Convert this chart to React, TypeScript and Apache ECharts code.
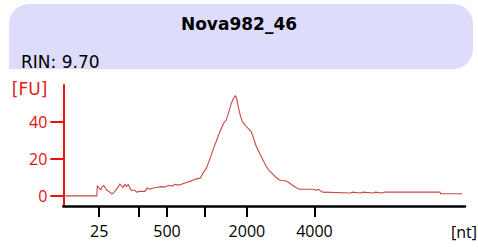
import React, { useEffect, useRef } from "react";
import * as echarts from "echarts";

// Electropherogram: migration time (s) vs fluorescence (FU)
const times: number[] = [
  20.0, 24.18, 24.23, 24.47, 24.68, 24.81, 25.05, 25.39, 25.8, 26.05, 26.42, 26.83, 27.04,
  27.25, 27.45, 27.66, 27.87, 28.07, 28.28, 28.49, 28.9, 29.11, 29.52, 30.15, 30.43, 30.77,
  31.18, 31.6, 32.22, 32.63, 33.04, 33.66, 33.87, 34.28, 34.7, 35.32, 35.94, 36.57, 37.06,
  37.39, 37.81, 38.13, 38.43, 38.71, 39.05, 39.33, 39.67, 39.96, 40.29, 40.61, 40.91, 41.2,
  41.41, 41.57, 41.82, 42.03, 42.28, 42.56, 42.97, 43.4, 43.68, 44.02, 44.43, 44.84, 45.26,
  45.67, 46.08, 46.5, 46.91, 47.32, 47.74, 48.15, 48.56, 48.98, 49.39, 51.13, 51.47, 51.75,
  52.25, 55.73, 55.97, 56.97, 57.22, 58.58, 58.83, 59.7, 59.95, 66.9, 66.96, 69.63,
];
const fluorescence: number[] = [
  0, 0, 5.4, 4.2, 3.2, 4.7, 5.6, 3.2, 2.0, 0.9, 2.4, 4.7, 6.5,
  5.4, 4.5, 6.3, 4.9, 6.3, 4.2, 3.0, 3.0, 2.0, 2.4, 2.4, 4.2, 3.6,
  4.2, 4.5, 5.0, 4.7, 5.6, 5.4, 6.3, 5.8, 6.3, 7.2, 8.1, 9.2, 9.6,
  12.3, 15.0, 18.6, 22.2, 25.8, 29.7, 33.0, 36.6, 39.3, 41.1, 45.6, 50.1, 52.8,
  54.3, 52.8, 47.4, 43.5, 40.2, 38.8, 36.6, 34.8, 31.2, 26.7, 23.1, 19.5, 15.9,
  13.5, 11.7, 9.9, 8.6, 8.3, 8.0, 6.9, 5.6, 4.5, 3.6, 3.6, 3.0, 3.6,
  2.0, 1.5, 2.0, 1.5, 2.0, 1.5, 2.0, 1.5, 2.0, 2.0, 1.1, 1.1,
];

// Ladder (nt) positions in migration time
const ladderTimes: number[] = [24.47, 29.44, 32.91, 37.6, 42.85, 51.26];
const ladderSizes: number[] = [25, 200, 500, 1000, 2000, 4000];
const labelledSizes: number[] = [25, 500, 2000, 4000];

const yTicks: number[] = [0, 20, 40];

const sampleName = "Nova982_46";
const rinText = "RIN: 9.70";

export default function App() {
  const ref = useRef<HTMLDivElement>(null);
  useEffect(() => {
    if (!ref.current) return;
    const chart = echarts.init(ref.current, undefined, { renderer: "svg" });
    const labelTimes = ladderTimes.filter((_, i) => labelledSizes.includes(ladderSizes[i]));
    chart.setOption({
      animation: false,
      backgroundColor: "#ffffff",
      graphic: [
        {
          type: "rect",
          shape: { x: 9, y: 4, width: 464, height: 65, r: [20, 20, 20, 0] },
          style: { fill: "#dddcfb" },
          z: -1,
        },
      ],
      title: [
        {
          text: sampleName,
          left: "center",
          top: 10,
          textStyle: { fontFamily: "DejaVu Sans", fontSize: 17, fontWeight: "bold", color: "#000" },
        },
        {
          text: rinText,
          left: 16,
          top: 48,
          textStyle: { fontFamily: "DejaVu Sans", fontSize: 17, fontWeight: "normal", color: "#000" },
        },
      ],
      grid: { left: 63.3, right: 12, top: 85, bottom: 42 },
      xAxis: {
        type: "value",
        min: 20,
        max: 70,
        name: "[nt]",
        nameLocation: "end",
        nameGap: -14,
        nameTextStyle: {
          fontFamily: "Open Sans",
          fontSize: 16,
          color: "#000",
          align: "left",
          verticalAlign: "top",
          padding: [18, 0, 0, 0],
        },
        axisLine: { onZero: false, lineStyle: { color: "#000", width: 2.5 } },
        axisTick: {
          show: true,
          customValues: ladderTimes,
          length: 11,
          inside: false,
          lineStyle: { color: "#000", width: 2 },
        },
        axisLabel: {
          customValues: labelTimes,
          margin: 17,
          fontFamily: "Open Sans",
          fontSize: 16,
          color: "#000",
          formatter: (v: number) => {
            const i = ladderTimes.findIndex((t) => Math.abs(t - v) < 0.01);
            return i >= 0 ? String(ladderSizes[i]) : "";
          },
        },
        splitLine: { show: false },
      },
      yAxis: {
        type: "value",
        min: -5.5,
        max: 60,
        name: "[FU]",
        nameLocation: "end",
        nameGap: -4,
        nameTextStyle: {
          fontFamily: "DejaVu Sans",
          fontSize: 17,
          color: "#e02020",
          align: "right",
          verticalAlign: "middle",
          padding: [0, 16, 0, 0],
        },
        axisLine: { show: true, onZero: false, lineStyle: { color: "#ee1111", width: 2 } },
        axisTick: {
          show: true,
          customValues: yTicks,
          length: 13,
          lineStyle: { color: "#ee1111", width: 2 },
        },
        axisLabel: {
          customValues: yTicks,
          margin: 16,
          fontFamily: "Open Sans",
          fontSize: 16,
          color: "#e01010",
        },
        splitLine: { show: false },
      },
      series: [
        {
          type: "line",
          data: times.map((t, i) => [t, fluorescence[i]]),
          showSymbol: false,
          symbol: "none",
          lineStyle: { color: "#c84848", width: 1.1 },
          z: 1,
        },
      ],
    });
    return () => chart.dispose();
  }, []);
  return <div ref={ref} style={{ width: 478, height: 248, position: "absolute", left: 0, top: 0 }} />;
}
